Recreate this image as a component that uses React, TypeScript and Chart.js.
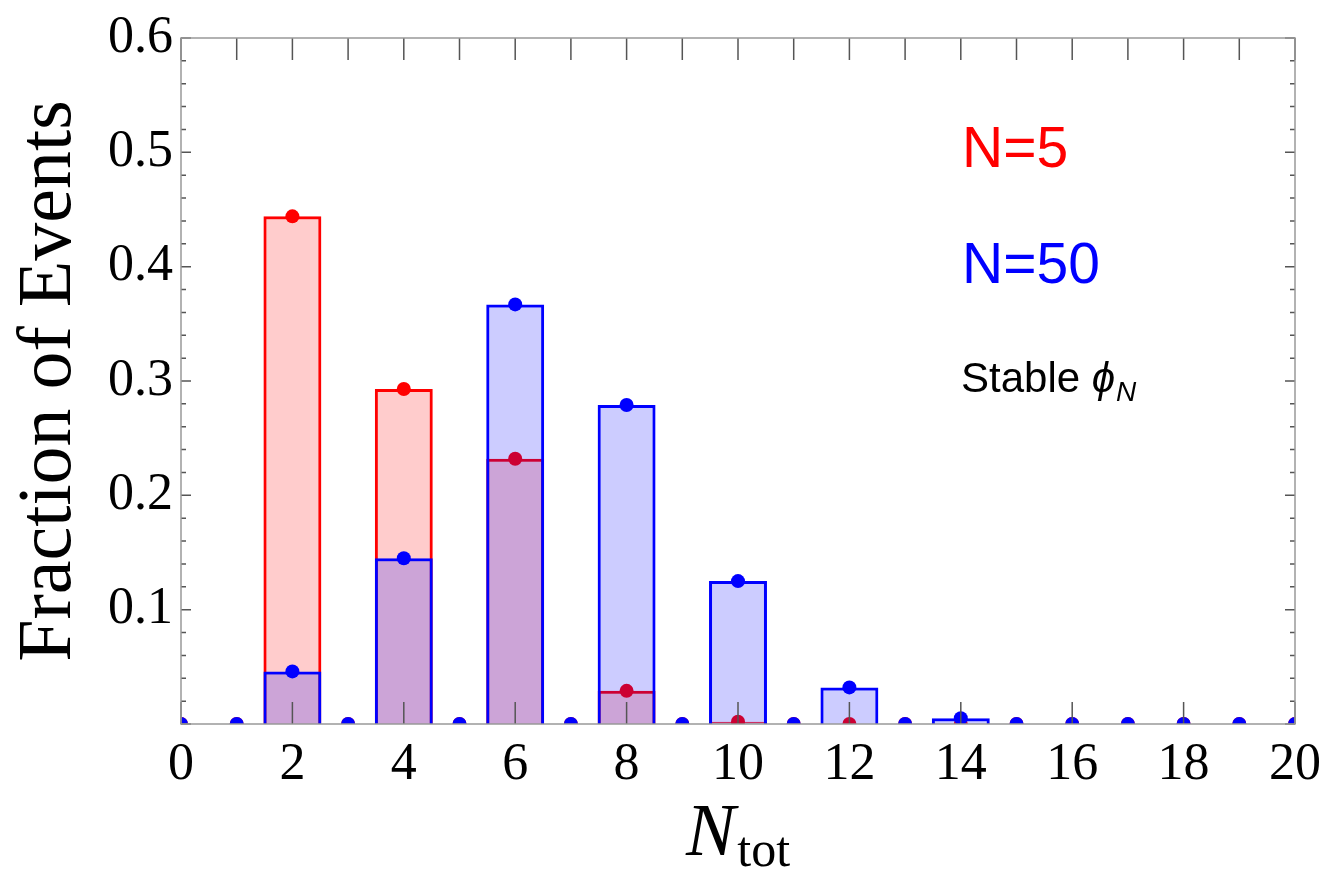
import React, { useEffect, useRef } from 'react';
import { Chart, registerables } from 'chart.js';

Chart.register(...registerables);

// ---- data ----
const nTot = [0, 1, 2, 3, 4, 5, 6, 7, 8, 9, 10, 11, 12, 13, 14, 15, 16, 17, 18, 19, 20];
const fracN5 = [0, 0, 0.444, 0, 0.293, 0, 0.232, 0, 0.029, 0, 0.002, 0, 0, 0, 0, 0, 0, 0, 0, 0, 0];
const fracN50 = [0, 0, 0.046, 0, 0.145, 0, 0.367, 0, 0.279, 0, 0.125, 0, 0.032, 0, 0.005, 0, 0, 0, 0, 0, 0];
const seriesLabels = ['N=5', 'N=50'];
const xTitleMain = 'N';
const xTitleSub = 'tot';
const yTitle = 'Fraction of Events';
const noteMain = 'Stable ';
const noteSym = 'ϕ';
const noteSub = 'N';

const RED = '#ff0000';
const BLUE = '#0000ff';

const barData = (vals: number[]) =>
  nTot.filter((n) => n % 2 === 0 && n > 0).map((n) => ({ x: n, y: vals[n] > 0 ? vals[n] : null }));
const pointData = (vals: number[]) => nTot.map((n) => ({ x: n, y: vals[n] }));

const decorPlugin = {
  id: 'decor',
  afterDraw(chart: any) {
    const { ctx, chartArea: a } = chart;
    const x = chart.scales.x;
    const y = chart.scales.y;
    ctx.save();
    // ticks (inward)
    ctx.strokeStyle = '#555555';
    ctx.lineWidth = 1.5;
    ctx.beginPath();
    for (let v = 0; v <= 20; v++) {
      const px = x.getPixelForValue(v);
      ctx.moveTo(px, a.top);
      ctx.lineTo(px, a.top + 22);
      if (v % 2 === 0) {
        ctx.moveTo(px, a.bottom);
        ctx.lineTo(px, a.bottom - 22);
      }
    }
    for (let i = 0; i <= 30; i++) {
      const py = y.getPixelForValue(i * 0.02);
      const len = i % 5 === 0 ? 10 : 5;
      ctx.moveTo(a.left, py);
      ctx.lineTo(a.left + len, py);
      ctx.moveTo(a.right, py);
      ctx.lineTo(a.right - len, py);
    }
    ctx.stroke();
    // frame
    ctx.strokeStyle = '#999999';
    ctx.lineWidth = 1.5;
    ctx.strokeRect(a.left, a.top, a.right - a.left, a.bottom - a.top);

    // x title: N_tot
    ctx.fillStyle = '#000';
    ctx.textBaseline = 'alphabetic';
    ctx.textAlign = 'left';
    const mainFont = 'italic 74px "Liberation Serif"';
    const subFont = '50px "Liberation Serif"';
    ctx.font = mainFont;
    const wMain = ctx.measureText(xTitleMain).width;
    ctx.font = subFont;
    const wSub = ctx.measureText(xTitleSub).width;
    const cx = (a.left + a.right) / 2;
    const startX = cx - (wMain + wSub + 2) / 2;
    ctx.font = mainFont;
    ctx.fillText(xTitleMain, startX, 855);
    ctx.font = subFont;
    ctx.fillText(xTitleSub, startX + wMain + 2, 866);

    // annotations
    ctx.font = '57px "Liberation Sans"';
    ctx.fillStyle = RED;
    ctx.fillText(seriesLabels[0], 962, 167);
    ctx.fillStyle = BLUE;
    ctx.fillText(seriesLabels[1], 962, 283);
    ctx.fillStyle = '#000';
    ctx.font = '42px "Liberation Sans"';
    ctx.fillText(noteMain, 961, 392);
    const w1 = ctx.measureText(noteMain).width;
    ctx.font = 'italic 42px "Liberation Sans"';
    ctx.fillText(noteSym, 961 + w1, 392);
    const w2 = ctx.measureText(noteSym).width;
    ctx.font = 'italic 28px "Liberation Sans"';
    ctx.fillText(noteSub, 961 + w1 + w2 + 1, 401);
    ctx.restore();
  },
};

export default function App() {
  const ref = useRef<HTMLCanvasElement | null>(null);
  useEffect(() => {
    if (!ref.current) return;
    const chart = new Chart(ref.current, {
      type: 'scatter',
      data: {
        datasets: [
          {
            type: 'scatter',
            label: seriesLabels[1] + ' points',
            data: pointData(fracN50),
            backgroundColor: BLUE,
            borderColor: BLUE,
            pointRadius: 7,
            borderWidth: 0,
            order: 0,
            clip: 0,
          } as any,
          {
            type: 'bar',
            label: seriesLabels[1],
            data: barData(fracN50),
            backgroundColor: 'rgba(0,0,255,0.2)',
            borderColor: BLUE,
            borderWidth: 3,
            grouped: false,
            barPercentage: 1,
            categoryPercentage: 0.52,
            order: 1,
          } as any,
          {
            type: 'scatter',
            label: seriesLabels[0] + ' points',
            data: pointData(fracN5),
            backgroundColor: RED,
            borderColor: RED,
            pointRadius: 7,
            borderWidth: 0,
            order: 2,
            clip: 0,
          } as any,
          {
            type: 'bar',
            label: seriesLabels[0],
            data: barData(fracN5),
            backgroundColor: 'rgba(255,0,0,0.2)',
            borderColor: RED,
            borderWidth: 3,
            grouped: false,
            barPercentage: 1,
            categoryPercentage: 0.52,
            order: 3,
          } as any,
        ],
      },
      options: {
        responsive: false,
        animation: false,
        layout: { padding: { top: 38, right: 31, left: 0, bottom: 0 } },
        plugins: { legend: { display: false }, tooltip: { enabled: false } },
        scales: {
          x: {
            type: 'linear',
            min: 0,
            max: 20,
            offset: false,
            grid: { display: false, drawTicks: false },
            border: { display: false },
            ticks: {
              stepSize: 2,
              padding: 10,
              color: '#000',
              font: { family: 'Liberation Serif', size: 52 },
              maxRotation: 0,
              autoSkip: false,
              callback: (v: any) => String(v),
            },
            afterFit: (s: any) => {
              s.height = 145;
              s.paddingRight = 0;
              s.paddingLeft = 0;
            },
          },
          y: {
            type: 'linear',
            min: 0,
            max: 0.6,
            grid: { display: false, drawTicks: false },
            border: { display: false },
            ticks: {
              stepSize: 0.1,
              padding: 8,
              color: '#000',
              font: { family: 'Liberation Serif', size: 52 },
              callback: (v: any) => (Math.abs(v) < 1e-9 ? '' : Number(v).toFixed(1)),
            },
            title: {
              display: true,
              text: yTitle,
              color: '#000',
              font: { family: 'Liberation Serif', size: 76 },
              padding: { top: 4, bottom: 0 },
            },
            afterFit: (s: any) => {
              s.width = 181;
              s.paddingTop = 0;
              s.paddingBottom = 0;
            },
          },
        },
      } as any,
      plugins: [decorPlugin],
    });
    return () => chart.destroy();
  }, []);
  return (
    <div style={{ position: 'fixed', left: 0, top: 0, width: 1326, height: 869, background: '#fff' }}>
      <canvas ref={ref} width={1326} height={869} />
    </div>
  );
}
